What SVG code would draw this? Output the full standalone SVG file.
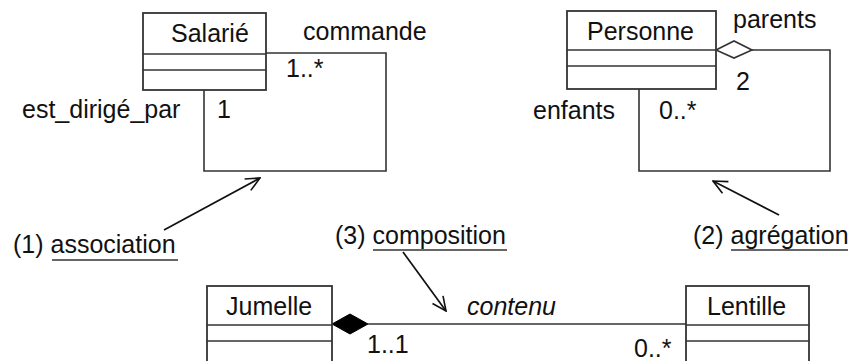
<svg xmlns="http://www.w3.org/2000/svg" width="853" height="361" viewBox="0 0 853 361">
<defs>
<style>
text{font-family:"Liberation Sans",Arial,sans-serif;font-size:25px;fill:#111}
.box{fill:#fff;stroke:#333;stroke-width:1.8}
.ln{fill:none;stroke:#333;stroke-width:1.6}
.ul{stroke:#333;stroke-width:1.6}
.ar{fill:none;stroke:#111;stroke-width:1.7}
</style>
<marker id="open" viewBox="0 0 16 16" refX="15" refY="8" markerWidth="16" markerHeight="16" markerUnits="userSpaceOnUse" orient="auto">
<path d="M1,1.5 L15,8 L1,14.5" fill="none" stroke="#111" stroke-width="1.6"/>
</marker>
</defs>
<rect width="853" height="361" fill="#fff"/>
<g id="connectors">
<path class="ln" d="M266,53 H386 V171 H204 V90"/>
<path class="ln" d="M752,50 H830 V171 H639 V89"/>
<path d="M716,50 L734,41 L752,50 L734,58 Z" fill="#fff" stroke="#333" stroke-width="1.6"/>
<line class="ln" x1="368" y1="324" x2="686" y2="324"/>
<path d="M332,324 L350,314 L368,324 L350,334 Z" fill="#000" stroke="#000" stroke-width="1"/>
<text x="303" y="40">commande</text>
<text x="286" y="77">1..*</text>
<text x="22" y="118">est_dirigé_par</text>
<text x="217" y="118">1</text>
<text x="733" y="28">parents</text>
<text x="736" y="90">2</text>
<text x="533" y="119">enfants</text>
<text x="659" y="119">0..*</text>
<text x="467" y="315" font-style="italic">contenu</text>
<text x="367" y="353">1..1</text>
<text x="634" y="357">0..*</text>
</g>
<g id="Salarie">
<rect class="box" x="143" y="13" width="123" height="77"/>
<line class="ln" x1="143" y1="54" x2="266" y2="54"/>
<line class="ln" x1="143" y1="70" x2="266" y2="70"/>
<text x="171" y="42">Salarié</text>
</g>
<g id="Personne">
<rect class="box" x="567" y="11" width="149" height="78"/>
<line class="ln" x1="567" y1="50" x2="716" y2="50"/>
<line class="ln" x1="567" y1="66" x2="716" y2="66"/>
<text x="587" y="40">Personne</text>
</g>
<g id="Jumelle">
<rect class="box" x="207" y="286" width="125" height="80"/>
<line class="ln" x1="207" y1="325" x2="332" y2="325"/>
<line class="ln" x1="207" y1="341" x2="332" y2="341"/>
<text x="226" y="315">Jumelle</text>
</g>
<g id="Lentille">
<rect class="box" x="686" y="286" width="123" height="80"/>
<line class="ln" x1="686" y1="325" x2="809" y2="325"/>
<line class="ln" x1="686" y1="341" x2="809" y2="341"/>
<text x="707" y="315">Lentille</text>
</g>
<g id="notes">
<text x="13" y="253">(1) association</text>
<line class="ul" x1="52" y1="260" x2="178" y2="260"/>
<line class="ar" x1="164" y1="230" x2="260" y2="178" marker-end="url(#open)"/>
<text x="335" y="244">(3) composition</text>
<line class="ul" x1="373" y1="250" x2="507" y2="250"/>
<line class="ar" x1="403" y1="252" x2="446" y2="311" marker-end="url(#open)"/>
<text x="693" y="244">(2) agrégation</text>
<line class="ul" x1="731" y1="250" x2="848" y2="250"/>
<line class="ar" x1="779" y1="215" x2="713" y2="181" marker-end="url(#open)"/>
</g>
</svg>
